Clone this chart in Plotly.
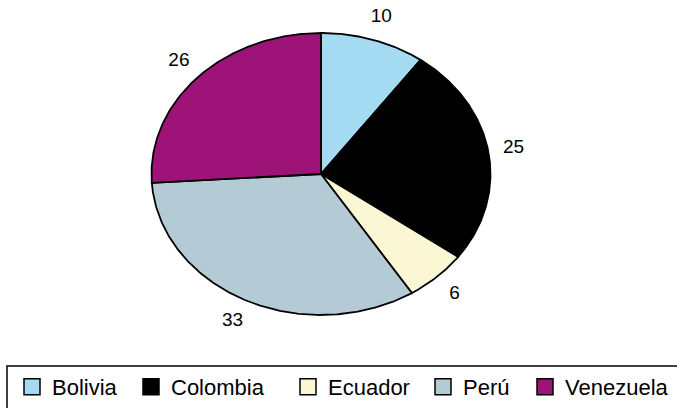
import numpy as np
import plotly.graph_objects as go

categories = ["Bolivia", "Colombia", "Ecuador", "Perú", "Venezuela"]
values = [10, 25, 6, 33, 26]
colors = ["#a4daf2", "#000000", "#fbf6d4", "#b4cbd6", "#9e1377"]

W, H = 677, 408
total = float(sum(values))

fig = go.Figure()

cum = 0.0
lab_x, lab_y = [], []
for cat, v, c in zip(categories, values, colors):
    a0 = cum / total * 2 * np.pi
    a1 = (cum + v) / total * 2 * np.pi
    t = np.linspace(a0, a1, max(int(v * 6), 12))
    xs = np.concatenate([[0.0], np.sin(t), [0.0]])
    ys = np.concatenate([[0.0], np.cos(t), [0.0]])
    fig.add_trace(go.Scatter(
        x=xs, y=ys, mode="lines", fill="toself", fillcolor=c,
        line=dict(color="black", width=1.8), hoverinfo="skip", showlegend=False,
    ))
    mid = (a0 + a1) / 2
    lab_x.append(1.15 * np.sin(mid))
    lab_y.append(1.17 * np.cos(mid))
    cum += v

fig.add_trace(go.Scatter(
    x=lab_x, y=lab_y, mode="text", text=[str(v) for v in values],
    textposition="middle center", cliponaxis=False,
    textfont=dict(family="Liberation Sans, Arial", size=19, color="black"),
    hoverinfo="skip", showlegend=False,
))

# one legend per entry so that spacing can follow the reference
legend_left = [24, 143, 300, 435, 537]  # x of each legend square
legend_names = ["legend", "legend2", "legend3", "legend4", "legend5"]
for cat, c, lg in zip(categories, colors, legend_names):
    fig.add_trace(go.Scatter(
        x=[None], y=[None], mode="markers", name=cat, legend=lg,
        marker=dict(symbol="square", size=16, color=c, line=dict(color="black", width=1.5)),
    ))

cx, cy, rx, ry = 321.0, 174.0, 169.5, 141.0
layout_legends = {}
for lg, xl in zip(legend_names, legend_left):
    layout_legends[lg] = dict(
        orientation="h", x=(xl - 12) / W, xanchor="left",
        y=(H - 387) / H, yanchor="middle",
        font=dict(family="Liberation Sans, Arial", size=22, color="black"),
        bgcolor="rgba(0,0,0,0)", borderwidth=0, itemclick=False,
    )

fig.update_layout(
    width=W, height=H,
    margin=dict(l=0, r=0, t=0, b=0),
    paper_bgcolor="white", plot_bgcolor="white",
    xaxis=dict(range=[-cx / rx, (W - cx) / rx], visible=False, fixedrange=True),
    yaxis=dict(range=[-(H - cy) / ry, cy / ry], visible=False, fixedrange=True),
    showlegend=True,
    hovermode=False,
    shapes=[dict(type="rect", xref="paper", yref="paper",
                 x0=7 / W, x1=1.02, y0=-0.05, y1=(H - 366) / H,
                 line=dict(color="black", width=1.5), fillcolor="rgba(0,0,0,0)", layer="below")],
    **layout_legends,
)

fig.write_html("out.html", config={"displayModeBar": False},
               post_script="document.body.style.margin='0';")
